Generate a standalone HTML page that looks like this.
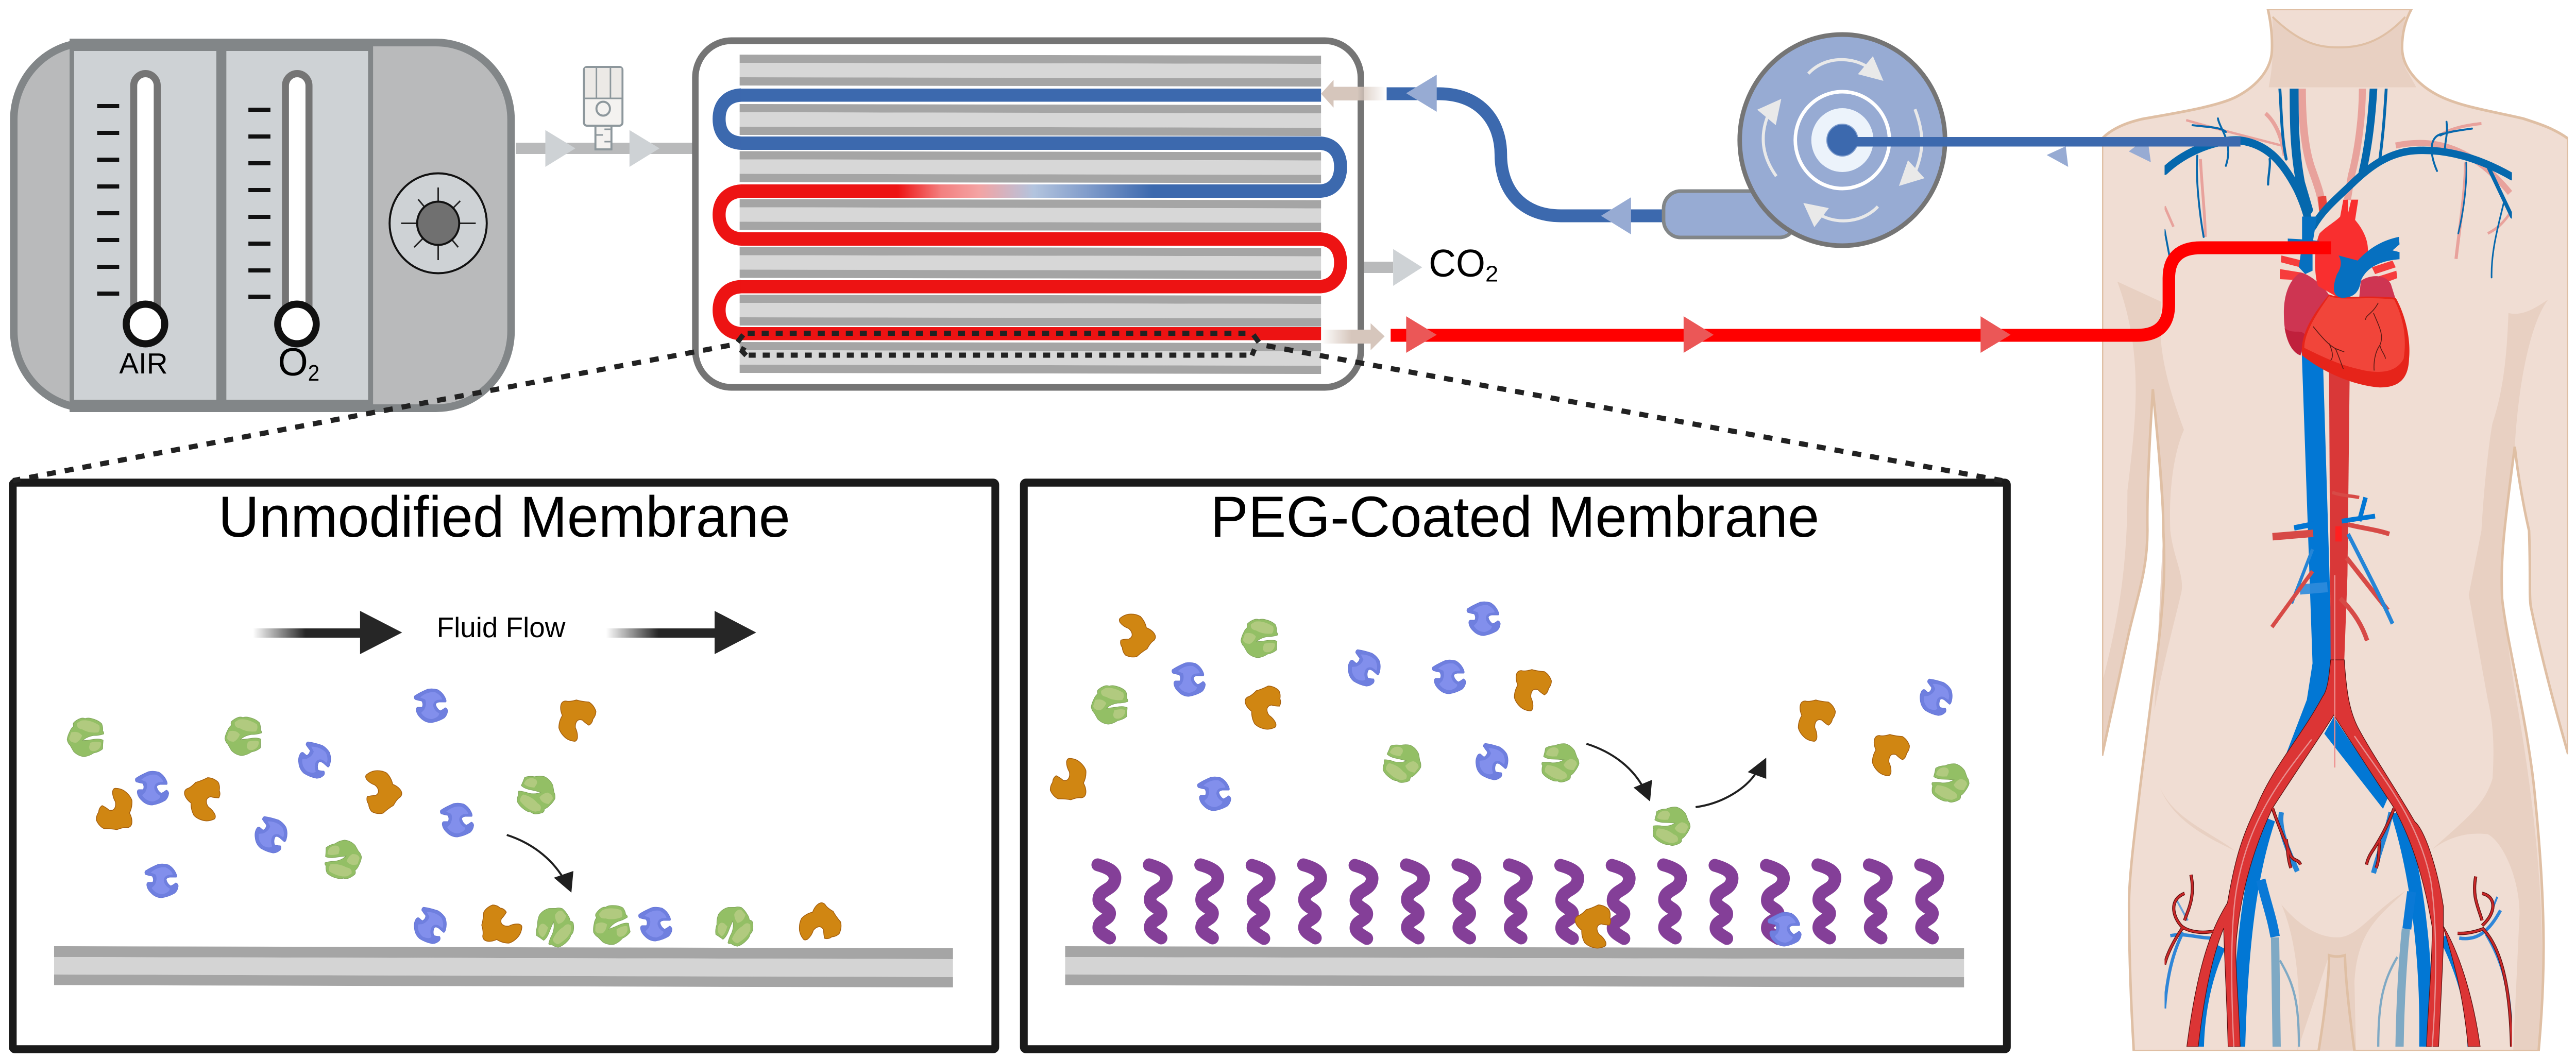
<!DOCTYPE html>
<html><head><meta charset="utf-8"><style>
html,body{margin:0;padding:0;background:#fff;width:100%;height:100%;overflow:hidden}
svg{display:block;width:100vw;height:100vh}
text{font-family:"Liberation Sans",sans-serif;fill:#000}
</style></head><body>
<svg viewBox="0 0 5144 2056" preserveAspectRatio="none" xmlns="http://www.w3.org/2000/svg">
<defs>
<linearGradient id="tubeGrad" gradientUnits="userSpaceOnUse" x1="1479" y1="0" x2="2638" y2="0">
<stop offset="0.27" stop-color="#ed1313"/><stop offset="0.345" stop-color="#f37f7f"/><stop offset="0.41" stop-color="#f4a3a3"/><stop offset="0.505" stop-color="#b3c4de"/><stop offset="0.6" stop-color="#7f9bca"/><stop offset="0.71" stop-color="#3c69ae"/><stop offset="1" stop-color="#3c69ae"/>
</linearGradient>
<linearGradient id="tanL" gradientUnits="userSpaceOnUse" x1="2638" y1="0" x2="2768" y2="0"><stop offset="0.55" stop-color="#d6c6bc"/><stop offset="1" stop-color="#d6c6bc" stop-opacity="0"/></linearGradient>
<linearGradient id="tanR" gradientUnits="userSpaceOnUse" x1="2638" y1="0" x2="2740" y2="0"><stop offset="0" stop-color="#d6c6bc" stop-opacity="0"/><stop offset="0.6" stop-color="#d6c6bc"/></linearGradient>
<linearGradient id="fa1" gradientUnits="userSpaceOnUse" x1="505" y1="0" x2="610" y2="0"><stop offset="0" stop-color="#262626" stop-opacity="0"/><stop offset="1" stop-color="#262626"/></linearGradient>
<linearGradient id="fa2" gradientUnits="userSpaceOnUse" x1="1210" y1="0" x2="1315" y2="0"><stop offset="0" stop-color="#262626" stop-opacity="0"/><stop offset="1" stop-color="#262626"/></linearGradient>
<g id="oxm"><polygon points="0,0 1161,2 1161,18 0,16" fill="#a5a5a5"/><polygon points="0,16 1161,18 1161,46 0,44" fill="#d7d7d7"/><polygon points="0,44 1161,46 1161,62 0,60" fill="#a5a5a5"/></g>
<g id="pm"><polygon points="0,0 1795,4 1795,25 0,21" fill="#a5a5a5"/><polygon points="0,21 1795,25 1795,60 0,55" fill="#d4d4d4"/><polygon points="0,55 1795,60 1795,80 0,75.500" fill="#a5a5a5"/></g>
<g id="blue">
<path d="M-33,-19 Q-22,-26 -7,-32 Q3,-34 13,-31 Q24,-25 29,-13 Q31,-8 29,-7 L16,-7 Q9,-6 9,-2 Q11,6 18,10 Q23,8 28,4 Q32,5 33,10 Q32,19 26,24 Q14,31 0,33 Q-12,33 -21,24 Q-29,17 -30,8 Q-30,4 -27,3 L-18,3 Q-15,-3 -19,-9 Q-25,-10 -32,-12 Q-35,-15 -33,-19Z" fill="#6f7fdf" stroke="#6676d6" stroke-width="1"/>
<path d="M-22,-16 Q-8,-28 8,-26 Q20,-20 22,-12 L12,-11 Q4,-8 4,0 Q6,10 16,15 Q16,22 2,26 Q-12,26 -20,14 L-14,8 Q-8,-3 -12,-12Z" fill="#828fec"/>
</g>
<g id="green">
<path d="M-10,-37 Q-5,-39 0,-37 Q6,-39 13,-37 Q26,-34 33,-27 Q36,-20 35,-13 Q38,-10 37,-7 Q28,-4 17,-4 Q3,-2 -5,6 Q7,5 20,3 Q30,2 36,5 Q35,14 35,22 Q28,28 17,30 Q8,36 -2,37 Q-14,36 -23,27 Q-26,22 -30,15 Q-34,12 -36,4 Q-35,-4 -30,-13 Q-28,-18 -23,-22 Q-25,-27 -22,-30 Q-16,-35 -10,-37Z" fill="#93bf65" stroke="#7fa35c" stroke-width="1"/>
<path d="M-8,-33 Q8,-36 28,-24 Q31,-16 26,-10 Q8,-8 -6,-16 Q-18,-18 -16,-28Z" fill="#b1ca7f"/>
<path d="M-28,-10 Q-14,-14 -6,-4 Q-10,6 -18,10 Q-30,10 -32,2Z" fill="#b1ca7f"/>
<path d="M10,10 Q26,6 32,10 Q32,22 20,26 Q8,28 8,18Z" fill="#b1ca7f"/>
</g>
<g id="orange">
<path d="M-15,-37 Q-7,-37 0,-31 Q8,-30 12,-23 Q8,-16 2,-10 Q0,-4 3,0 Q8,5 17,4 Q27,-1 37,0 Q44,2 43,7 Q42,16 37,23 Q28,34 17,37 Q4,37 -7,30 Q-18,35 -27,33 Q-35,31 -35,23 Q-33,16 -37,2 Q-34,-8 -33,-23 Q-27,-33 -15,-37Z" fill="#d08612" stroke="#a6600e" stroke-width="1.500"/>
</g>
<path id="peg" d="M0,0 C22,6 38,14 34,30 C30,50 2,48 2,68 C2,82 24,84 24,94 C24,108 2,106 2,122 C2,130 14,136 24,142" fill="none" stroke="#843f98" stroke-width="25" stroke-linecap="round"/>
<clipPath id="bodyClip"><rect x="75" y="26" width="1468" height="3080"/></clipPath>
<clipPath id="vesClip"><rect x="272" y="262" width="1094" height="2831"/></clipPath>
</defs>
<rect width="5144" height="2056" fill="#fff"/>

<!-- Gas blender -->
<rect x="27.500" y="82.500" width="993" height="710" rx="150" ry="150" fill="#b9babb" stroke="#828688" stroke-width="15"/>
<rect x="139" y="75" width="606" height="725" fill="#828688"/>
<rect x="148" y="99" width="284" height="677" fill="#ced2d5"/>
<rect x="452" y="99" width="283" height="677" fill="#ced2d5"/>
<g fill="#111">
<rect x="194" y="202" width="44" height="8"/><rect x="194" y="254" width="44" height="8"/><rect x="194" y="306" width="44" height="8"/><rect x="194" y="358" width="44" height="8"/><rect x="194" y="410" width="44" height="8"/><rect x="194" y="462" width="44" height="8"/><rect x="194" y="514" width="44" height="8"/><rect x="194" y="566" width="44" height="8"/>
<rect x="496" y="209" width="44" height="8"/><rect x="496" y="261" width="44" height="8"/><rect x="496" y="313" width="44" height="8"/><rect x="496" y="365" width="44" height="8"/><rect x="496" y="417" width="44" height="8"/><rect x="496" y="469" width="44" height="8"/><rect x="496" y="521" width="44" height="8"/><rect x="496" y="572" width="44" height="8"/>
</g>
<rect x="267" y="143" width="47" height="480" rx="23.500" fill="#fff" stroke="#757575" stroke-width="14"/>
<rect x="570" y="143" width="47" height="480" rx="23.500" fill="#fff" stroke="#757575" stroke-width="14"/>
<circle cx="290.500" cy="629" r="38.500" fill="#fff" stroke="#111" stroke-width="14"/>
<circle cx="593" cy="629" r="38.500" fill="#fff" stroke="#111" stroke-width="14"/>
<text x="238" y="725" font-size="57" textLength="97" lengthAdjust="spacingAndGlyphs">AIR</text>
<text x="555" y="729" font-size="76" textLength="60" lengthAdjust="spacingAndGlyphs">O</text>
<text x="615" y="739" font-size="44" textLength="23" lengthAdjust="spacingAndGlyphs">2</text>
<circle cx="875" cy="433.500" r="97" fill="#ced2d5" stroke="#111" stroke-width="4"/>
<g stroke="#222" stroke-width="3" fill="none">
<line x1="875" y1="364" x2="875" y2="505"/><line x1="801" y1="433.500" x2="950" y2="433.500"/>
<line x1="835" y1="387" x2="915" y2="480"/><line x1="919" y1="390" x2="827" y2="480"/>
</g>
<circle cx="875" cy="433.500" r="42" fill="#707070" stroke="#111" stroke-width="4"/>

<!-- Air line and valve -->
<rect x="1030" y="277" width="358" height="22" fill="#b9babb"/>
<polygon points="1089,252.500 1149,288 1089,324" fill="#ced2d5"/>
<polygon points="1257,252.500 1317,288 1257,324" fill="#ced2d5"/>
<rect x="1189" y="240" width="32" height="50" fill="#f4f2f0" stroke="#8d979c" stroke-width="4"/>
<path d="M1190,262h14M1207,251h12M1207,275h12" stroke="#8d979c" stroke-width="3"/>
<rect x="1166" y="130" width="77" height="114" rx="6" fill="#f4f2f0" stroke="#8d979c" stroke-width="4"/>
<rect x="1168" y="132" width="73" height="58" fill="#ece9e6"/>
<path d="M1166,191H1243M1191,130V191M1219,130V191" stroke="#8d979c" stroke-width="3" fill="none"/>
<circle cx="1204.500" cy="211" r="13.500" fill="none" stroke="#8d979c" stroke-width="4"/>

<!-- Oxygenator -->
<rect x="1388.500" y="79" width="1329" height="673" rx="72" fill="#fff" stroke="#757575" stroke-width="13"/>
<use href="#oxm" x="1477" y="106"/><use href="#oxm" x="1477" y="202"/><use href="#oxm" x="1477" y="293.500"/><use href="#oxm" x="1477" y="386.500"/><use href="#oxm" x="1477" y="479.500"/><use href="#oxm" x="1477" y="572"/><use href="#oxm" x="1477" y="664"/>
<g fill="none" stroke-width="26">
<path d="M1480,184.500 C1450,186 1436,205 1436,231 C1436,257 1450,276 1480,278" stroke="#3c69ae"/>
<path d="M2637,278 C2665,280 2677,300 2677,324 C2677,348 2665,369 2637,371" stroke="#3c69ae"/>
<path d="M1480,371 C1450,373 1436,393 1436,417 C1436,441 1450,462 1480,464" stroke="#ed1313"/>
<path d="M2637,464 C2665,466 2677,486 2677,510 C2677,534 2665,554 2637,556.500" stroke="#ed1313"/>
<path d="M1480,556.500 C1450,558 1436,578 1436,602 C1436,626 1450,646 1480,648" stroke="#ed1313"/>
</g>
<rect x="1479" y="172" width="1159" height="25.500" fill="#3c69ae"/>
<rect x="1479" y="265" width="1159" height="26" fill="#3c69ae"/>
<rect x="1479" y="358" width="1159" height="26" fill="url(#tubeGrad)"/>
<rect x="1479" y="451" width="1159" height="26" fill="#ed1313"/>
<rect x="1479" y="544" width="1159" height="25.500" fill="#ed1313"/>
<rect x="1479" y="635" width="1159" height="25.500" fill="#ed1313"/>

<!-- Tube connectors -->
<rect x="2660" y="168.500" width="108" height="26.500" fill="url(#tanL)"/>
<polygon points="2638,182 2663,155 2663,209" fill="#d6c6bc"/>
<rect x="2638" y="640" width="100" height="27" fill="url(#tanR)"/>
<polygon points="2737,627.500 2765,653 2737,680" fill="#d6c6bc"/>
<rect x="2724" y="508" width="58" height="22" fill="#b9babb"/>
<polygon points="2782,483.500 2840,519 2782,555" fill="#ced2d5"/>
<text x="2853" y="537" font-size="75" textLength="113" lengthAdjust="spacingAndGlyphs">CO</text>
<text x="2966" y="546.500" font-size="44" textLength="26" lengthAdjust="spacingAndGlyphs">2</text>

<path d="M2769,182 H2872 C2960,182 2997,240 2997,300 C2997,370 3040,419 3117,419 H3340" fill="none" stroke="#3c69ae" stroke-width="25"/>
<polygon points="2808,181 2869,145 2869,217" fill="#97abd3"/>
<polygon points="3197,419 3257,383 3257,455" fill="#97abd3"/>

<!-- Pump -->
<rect x="3322" y="371" width="265" height="90" rx="34" fill="#97abd3" stroke="#828688" stroke-width="7"/>
<circle cx="3679" cy="272" r="205" fill="#97abd3" stroke="#757575" stroke-width="9"/>
<circle cx="3679" cy="272" r="94" fill="none" stroke="#fff" stroke-width="7"/>
<circle cx="3679" cy="272" r="62" fill="#ecf3fb"/>
<g fill="none" stroke="#e9e9e9" stroke-width="6">
<path d="M3611,143 C3640,112 3690,108 3726,128"/>
<path d="M3750,401 C3720,432 3670,436 3636,418"/>
<path d="M3824,212 C3842,258 3842,290 3826,330"/>
<path d="M3547,342 C3516,300 3516,260 3530,225"/>
</g>
<g fill="#e9e9e9">
<polygon points="3740,109 3761,157 3710,144"/>
<polygon points="3601,394 3652,404 3623,441"/>
<polygon points="3810,311 3843,346 3792,361"/>
<polygon points="3557,192 3509,213 3546,243"/>
</g>
<rect x="3704" y="266" width="770" height="18.500" fill="#3c69ae"/>
<circle cx="3679" cy="272" r="31" fill="#3c69ae" stroke="#7e9ccd" stroke-width="2"/>

<!-- Body -->
<g transform="translate(4150,0) scale(.634,.657)">
<g clip-path="url(#bodyClip)">
<path d="M597,26 C605,60 612,100 610,150 C608,200 570,250 500,285 C440,315 300,335 200,352 C140,365 100,385 75,410 L75,2233 C100,2130 130,2000 160,1868 C190,1750 218,1680 218,1568 C216,1450 225,1300 235,1150 C250,1300 268,1450 268,1568 C275,1700 270,1800 230,2068 C215,2180 195,2320 190,2368 C175,2480 160,2600 160,2668 C160,2800 165,2950 175,3106 L757,3106 C775,3000 790,2900 790,2823 Q815,2830 840,2823 C842,2900 855,3000 870,3106 L1450,3106 C1470,2900 1475,2700 1440,2368 C1420,2150 1350,1900 1335,1768 C1330,1650 1340,1568 1375,1320 C1390,1450 1420,1568 1420,1568 C1425,1700 1420,1750 1425,1790 C1460,1950 1510,2120 1543,2228 L1543,410 C1500,380 1450,365 1400,350 C1300,328 1200,315 1130,280 C1070,250 1020,200 1020,140 C1020,100 1030,60 1050,26 Z" fill="#f0ddd3"/>
<g fill="#e8d0c2">
<path d="M612,50 C700,130 760,140 820,140 C880,140 950,130 1030,50 C1020,110 1018,160 1030,200 L1065,258 L600,258 C605,230 612,200 612,150Z"/>
<path d="M123,832 L262,892 C250,1000 265,1100 333,1270 C300,1340 285,1450 290,1568 C300,1650 335,1700 325,1750 C300,1850 270,1950 240,2100 L268,1568 L235,1150 L218,1568 C215,1700 150,1900 75,2233 L75,2020 C120,1850 155,1700 155,1450 C180,1250 210,1050 123,832Z"/>
<path d="M1480,885 C1440,910 1400,935 1355,925 C1350,1050 1340,1150 1305,1250 C1300,1270 1280,1400 1270,1568 L1230,1758 L1290,2068 C1310,2150 1310,2220 1305,2300 C1280,2380 1220,2420 1115,2510 C1180,2465 1240,2460 1290,2465 C1340,2490 1390,2600 1390,2700 L1370,3106 L1450,3106 C1475,2800 1460,2500 1380,2068 C1350,1900 1335,1768 1335,1700 C1330,1650 1340,1568 1375,1320 C1385,1150 1420,960 1480,885Z"/>
<path d="M640,2673 C700,2740 760,2770 815,2770 C880,2770 920,2700 1030,2633 C960,2700 880,2740 870,2900 L875,3106 L757,3106 L790,2823 L690,3106 C705,2950 690,2780 640,2673Z"/>
<path d="M258,2328 C300,2420 420,2460 495,2515 C420,2480 300,2430 258,2328Z"/>
</g>
<path d="M597,26 C605,60 612,100 610,150 C608,200 570,250 500,285 C440,315 300,335 200,352 C140,365 100,385 75,410 L75,2233 C100,2130 130,2000 160,1868 C190,1750 218,1680 218,1568 C216,1450 225,1300 235,1150 C250,1300 268,1450 268,1568 C275,1700 270,1800 230,2068 C215,2180 195,2320 190,2368 C175,2480 160,2600 160,2668 C160,2800 165,2950 175,3106 L757,3106 C775,3000 790,2900 790,2823 Q815,2830 840,2823 C842,2900 855,3000 870,3106 L1450,3106 C1470,2900 1475,2700 1440,2368 C1420,2150 1350,1900 1335,1768 C1330,1650 1340,1568 1375,1320 C1390,1450 1420,1568 1420,1568 C1425,1700 1420,1750 1425,1790 C1460,1950 1510,2120 1543,2228 L1543,410 C1500,380 1450,365 1400,350 C1300,328 1200,315 1130,280 C1070,250 1020,200 1020,140 C1020,100 1030,60 1050,26 Z" fill="none" stroke="#dfbfa4" stroke-width="8"/>
<path d="M612,50 C700,130 760,140 820,140 C880,140 950,130 1030,50" fill="none" stroke="#dfbfa4" stroke-width="6"/>
</g>
<rect x="600" y="262" width="466" height="70" fill="#f0ddd3"/>

<g clip-path="url(#vesClip)" fill="none" stroke-linecap="round">
<!-- upper arteries (pink) -->
<g stroke="#e8a29c" stroke-linecap="butt">
<path d="M705,262 C705,350 712,430 732,490 C750,540 765,570 770,620" stroke-width="24"/>
<path d="M895,262 C895,350 880,450 860,520 L848,590" stroke-width="22"/>
<path d="M340,355 C450,385 560,410 640,430" stroke-width="7"/>
<path d="M590,335 C620,360 640,400 650,460" stroke-width="12"/>
<path d="M1000,430 C1100,410 1230,420 1360,570" stroke-width="18"/>
<path d="M1270,365 C1220,370 1170,380 1140,400" stroke-width="9"/>
<path d="M385,470 C390,560 400,640 400,700" stroke-width="9"/>
<path d="M1220,480 C1220,560 1200,680 1190,765" stroke-width="10"/>
<path d="M272,610 L300,670" stroke-width="8"/>
<path d="M1360,630 C1330,670 1310,680 1290,690" stroke-width="8"/>
</g>
<path d="M768,580 L772,625" stroke="#e8443c" stroke-width="26" stroke-linecap="butt"/>
<!-- upper veins -->
<g stroke="#0568ad">
<path d="M272,505 C340,445 440,410 510,415 C590,425 640,470 690,560 C710,600 725,640 730,680" stroke-width="24"/>
<path d="M1366,522 C1250,460 1150,440 1060,445 C980,450 920,490 860,545 C810,590 770,620 740,670" stroke-width="22"/>
<path d="M635,262 C640,330 640,400 655,470" stroke-width="9"/>
<path d="M680,262 C680,350 680,440 700,540 L725,620" stroke-width="28"/>
<path d="M930,262 C925,340 915,430 895,510" stroke-width="24"/>
<path d="M970,262 C965,340 960,400 950,470" stroke-width="9"/>
<path d="M375,460 C370,520 380,620 395,700" stroke-width="6"/>
<path d="M603,470 C606,490 598,520 598,545" stroke-width="7"/>
<path d="M440,350 C445,380 490,420 465,490" stroke-width="6"/>
<path d="M360,370 C400,375 450,375 465,390" stroke-width="6"/>
<path d="M1222,480 C1225,540 1215,620 1197,690" stroke-width="5"/>
<path d="M1340,600 C1325,660 1300,740 1302,820" stroke-width="5"/>
<path d="M1160,360 C1165,395 1155,420 1155,440" stroke-width="6"/>
<path d="M1150,395 C1105,400 1105,450 1130,505" stroke-width="6"/>
<path d="M1240,380 C1200,385 1160,390 1140,400" stroke-width="6"/>
<path d="M1290,490 L1366,640" stroke-width="12"/>
<path d="M272,680 L290,770" stroke-width="6"/>
</g>

<!-- IVC and aorta trunk -->
<polygon points="704,1040 770,1040 800,1960 778,2068 700,2240 650,2240 720,2068 738,1960 " fill="#0277d4"/>
<polygon points="790,1100 855,1100 848,1700 838,1950 795,1950" fill="#d93838"/>
<path d="M698,1742 L785,1735" stroke="#2f8bdc" stroke-width="30" stroke-linecap="butt" opacity=".9"/>
<!-- renal/lumbar branches -->
<g stroke-linecap="butt">
<path d="M800,1455 C830,1465 860,1465 885,1470" stroke="#d74a46" stroke-width="10"/>
<path d="M680,1560 L760,1545" stroke="#0277d4" stroke-width="16"/>
<path d="M830,1540 L935,1525" stroke="#0277d4" stroke-width="14"/>
<path d="M905,1470 L885,1540" stroke="#0277d4" stroke-width="14"/>
<path d="M612,1586 L740,1576" stroke="#d74a46" stroke-width="22"/>
<path d="M850,1550 C890,1560 940,1565 980,1578" stroke="#d74a46" stroke-width="14"/>
<path d="M820,1555 V1600" stroke="#ff2020" stroke-width="20"/>
<path d="M738,1623 L672,1783" stroke="#2585d6" stroke-width="10"/>
<path d="M738,1688 L610,1853" stroke="#d74a46" stroke-width="12"/>
<path d="M845,1648 L975,1803" stroke="#d74a46" stroke-width="14"/>
<path d="M850,1578 C900,1670 950,1760 990,1843" stroke="#2585d6" stroke-width="12"/>
<path d="M825,1768 C870,1810 895,1850 910,1893" stroke="#d74a46" stroke-width="14"/>
</g>
<!-- lower veins -->
<polygon points="775,2168 805,2118 975,2358 960,2390" fill="#0277d4"/>
<g stroke-linecap="butt">
<path d="M600,2420 C550,2560 515,2750 505,3093" stroke="#0277d4" stroke-width="42"/>
<path d="M1005,2400 C1060,2560 1100,2800 1095,3093" stroke="#0277d4" stroke-width="42"/>
<path d="M450,2798 C410,2880 385,2980 382,3093" stroke="#0277d4" stroke-width="28"/>
<path d="M1150,2768 C1210,2880 1240,2990 1240,3093" stroke="#0277d4" stroke-width="28"/>
<path d="M575,2600 C590,2660 610,2710 620,2768" stroke="#0a79d6" stroke-width="30"/>
<path d="M1050,2635 L1035,2745" stroke="#0a79d6" stroke-width="28"/>
<path d="M620,2770 L625,3093" stroke="#7fa9c4" stroke-width="26"/>
<path d="M1032,2745 C1020,2860 1014,2980 1012,3093" stroke="#7fa9c4" stroke-width="26"/>
<path d="M635,2838 C680,2910 695,2960 695,3093" stroke="#7fa9c4" stroke-width="7"/>
<path d="M1005,2828 C960,2900 945,2960 945,3093" stroke="#7fa9c4" stroke-width="7"/>
<path d="M290,2765 C340,2755 380,2775 440,2772" stroke="#2f86d8" stroke-width="10"/>
<path d="M330,2755 C300,2810 280,2880 272,2980" stroke="#2f86d8" stroke-width="10"/>
<path d="M1200,2772 C1250,2780 1290,2760 1330,2690" stroke="#2f86d8" stroke-width="10"/>
<path d="M1285,2760 C1330,2830 1355,2900 1362,3020" stroke="#2f86d8" stroke-width="10"/>
<path d="M310,2660 L345,2720" stroke="#6aa2d8" stroke-width="6"/>
<path d="M1320,2650 L1290,2720" stroke="#2f86d8" stroke-width="6"/>
<path d="M640,2400 C630,2450 660,2510 690,2575" stroke="#2585d6" stroke-width="16"/>
<path d="M985,2400 C975,2450 950,2510 930,2580" stroke="#2585d6" stroke-width="16"/>
</g>
<!-- iliac arteries -->
<path d="M795,1950 C790,2000 785,2040 770,2058 C700,2180 610,2270 560,2388 C510,2480 490,2560 470,2668 C430,2730 380,2820 342,3093 L378,3093 C395,2950 420,2830 458,2743 C462,2860 470,3000 472,3093 L510,3093 C505,2940 490,2830 500,2760 C515,2620 560,2490 612,2388 C700,2260 760,2180 805,2113 C850,2180 920,2280 995,2388 C1050,2480 1090,2600 1115,2740 C1115,2850 1100,3000 1097,3093 L1135,3093 C1140,3000 1148,2860 1152,2740 C1190,2800 1240,2920 1266,3093 L1228,3093 C1215,2960 1190,2860 1150,2740 L1150,2678 C1130,2560 1090,2450 1060,2428 C1000,2330 920,2220 880,2148 C855,2100 845,2050 838,1950 Z" fill="#dc3535" stroke="#5a1010" stroke-width="2"/>
<g stroke="#e88f8f" stroke-width="4" stroke-linecap="butt">
<path d="M735,2185 C650,2290 540,2410 500,2620 C480,2720 480,2900 490,3093"/>
<path d="M870,2175 C960,2300 1070,2420 1110,2600 C1130,2720 1130,2900 1115,3093"/>
<path d="M808,2268 V1700" stroke="#ee8d8d"/>
</g>
<g stroke="#5a1010" stroke-width="10" stroke-linecap="butt">
<path d="M612,2388 C630,2440 650,2480 670,2530 C680,2545 695,2540 700,2555"/>
<path d="M655,2480 C660,2510 660,2540 670,2565"/>
<path d="M995,2388 C975,2440 950,2480 930,2510 C915,2530 910,2545 908,2555"/>
<path d="M950,2485 C945,2510 950,2540 938,2565"/>
<path d="M425,2752 C380,2760 345,2750 330,2740 C300,2780 280,2820 272,2850"/>
<path d="M335,2745 C300,2720 280,2660 335,2640"/>
<path d="M335,2720 C345,2690 370,2650 355,2585"/>
<path d="M1195,2758 C1230,2760 1260,2750 1275,2745 C1320,2790 1360,2880 1365,3093"/>
<path d="M1272,2735 C1315,2700 1320,2650 1272,2640"/>
<path d="M1272,2720 C1260,2680 1240,2650 1252,2590"/>
</g>
<g stroke="#c82828" stroke-width="6" stroke-linecap="butt">
<path d="M612,2388 C630,2440 650,2480 670,2530 C680,2545 695,2540 700,2555"/>
<path d="M655,2480 C660,2510 660,2540 670,2565"/>
<path d="M995,2388 C975,2440 950,2480 930,2510 C915,2530 910,2545 908,2555"/>
<path d="M950,2485 C945,2510 950,2540 938,2565"/>
<path d="M425,2752 C380,2760 345,2750 330,2740 C300,2780 280,2820 272,2850"/>
<path d="M335,2745 C300,2720 280,2660 335,2640"/>
<path d="M335,2720 C345,2690 370,2650 355,2585"/>
<path d="M1195,2758 C1230,2760 1260,2750 1275,2745 C1320,2790 1360,2880 1365,3093"/>
<path d="M1272,2735 C1315,2700 1320,2650 1272,2640"/>
<path d="M1272,2720 C1260,2680 1240,2650 1252,2590"/>
</g>
</g>

<!-- Heart -->
<g fill="#f63c3c">
<polygon points="640,755 705,770 700,790 638,775"/><polygon points="635,795 700,805 700,828 635,825"/>
<polygon points="925,790 990,770 1000,790 935,810"/><polygon points="935,820 1002,800 1005,822 940,845"/>
</g>
<path d="M700,805 C660,830 645,880 648,940 C650,1000 670,1040 700,1050 L720,1000 L795,880 C780,850 730,810 700,805Z" fill="#ce3552"/>
<path d="M650,970 C660,1020 680,1045 700,1050 L715,990 C700,970 680,990 650,970Z" fill="#c0203c"/>
<path d="M890,830 C920,810 970,810 985,840 L1000,885 L885,880Z" fill="#ce3552"/>
<path d="M760,690 C780,670 810,655 825,640 L835,590 L850,590 L850,630 L860,590 L882,590 L872,650 C900,680 915,715 912,745 L820,880 L755,845 C740,800 745,720 760,690Z" fill="#f92f2f"/>
<path d="M790,870 C830,885 900,870 1000,880 C1030,930 1048,1000 1042,1060 C1040,1120 1010,1145 950,1145 C870,1140 770,1100 705,1050 C700,1000 720,950 790,870Z" fill="#e6241a"/>
<path d="M790,875 C830,890 900,875 995,885 C1025,940 1035,1000 1025,1060 C1000,1105 940,1105 880,1090 C810,1075 750,1045 712,1028 C712,990 740,940 790,875Z" fill="#f1453a"/>
<g fill="none" stroke="#5a1a14" stroke-width="2.500">
<path d="M945,895 C925,930 905,930 905,945 M930,925 C945,960 965,990 950,1020 C935,1040 930,1070 932,1095 M950,1020 C955,1040 965,1045 968,1060"/>
<path d="M740,965 C770,1000 790,1020 810,1030 C820,1050 830,1080 835,1090 M790,1015 C800,1035 805,1055 795,1065 M810,1030 L838,1040"/>
</g>
<g fill="#0670c0">
<path d="M705,640 L752,640 L738,720 L738,800 L715,810 L695,790 L705,720 Z"/>
<polygon points="660,705 700,707 760,712 745,720 660,715"/>
<path d="M820,755 L880,770 C920,730 960,710 1010,700 L1012,722 L990,740 L1012,745 L1012,766 C960,770 910,785 890,830 C885,870 860,880 830,880 C800,875 800,850 815,810 C830,790 830,770 820,755Z"/>
</g>
</g>

<!-- Blue line overlay & return arrows -->
<polygon points="4087,301 4125,284 4130,324" fill="#97abd3"/>
<polygon points="4251,294 4288,266 4295,315" fill="#97abd3"/>
<rect x="3704" y="266" width="770" height="18.500" fill="#3c69ae"/>

<!-- Red line -->
<path d="M2777,651 H4267 Q4331,651 4331,591 V540 Q4331,481 4395,481 H4655" fill="none" stroke="#ff0000" stroke-width="25"/>
<polygon points="2808,614 2869,650 2808,685" fill="#eb5757"/>
<polygon points="3362,614 3422,650 3362,685" fill="#eb5757"/>
<polygon points="3955,614 4015,650 3955,685" fill="#eb5757"/>

<!-- Panels -->
<rect x="25.500" y="937" width="1962" height="1100" rx="4" fill="#fff" stroke="#1a1a1a" stroke-width="15.500"/>
<rect x="2044.500" y="937" width="1963" height="1100" rx="4" fill="#fff" stroke="#1a1a1a" stroke-width="15.500"/>
<text x="436" y="1042" font-size="112" textLength="1142" lengthAdjust="spacingAndGlyphs">Unmodified Membrane</text>
<text x="2417" y="1042" font-size="112" textLength="1216" lengthAdjust="spacingAndGlyphs">PEG-Coated Membrane</text>
<text x="872" y="1237" font-size="55" textLength="257" lengthAdjust="spacingAndGlyphs">Fluid Flow</text>
<rect x="505" y="1220" width="215" height="18" fill="url(#fa1)"/><polygon points="719,1186 803,1228 719,1270" fill="#262626"/>
<rect x="1210" y="1220" width="218" height="18" fill="url(#fa2)"/><polygon points="1427,1186 1510,1228 1427,1270" fill="#262626"/>
<use href="#pm" x="108" y="1837"/>
<use href="#pm" x="2127" y="1837"/>

<!-- Dotted lines -->
<g fill="none" stroke="#222" stroke-width="10">
<path d="M1493,647 H2495" stroke-dasharray="14 14"/>
<path d="M1495,689.500 H2490" stroke-dasharray="14 14"/>
<path d="M1484,650 L1470,668 L26,933" stroke-dasharray="18 18"/>
<path d="M2503,650 L2517,669 L3998,933" stroke-dasharray="18 18"/>
<path d="M1486,674 L1482,682 L1490,690"/>
<path d="M2505,678 L2500,690"/>
</g>

<!-- Panel 1 proteins -->
<g>
<use href="#green" transform="translate(170,1432)"/><use href="#green" transform="translate(485,1430)"/><use href="#green" transform="translate(1073,1542) rotate(200)"/><use href="#green" transform="translate(686,1668) rotate(180)"/>
<use href="#green" transform="translate(1108,1797) rotate(120)"/><use href="#green" transform="translate(1219,1797) rotate(-15)"/><use href="#green" transform="translate(1466,1795) rotate(120)"/>
<use href="#blue" transform="translate(861,1370)"/><use href="#blue" transform="translate(628,1476) rotate(40)"/><use href="#blue" transform="translate(304,1530)"/><use href="#blue" transform="translate(541,1621) rotate(40)"/><use href="#blue" transform="translate(323,1710)"/><use href="#blue" transform="translate(913,1592)"/>
<use href="#blue" transform="translate(859,1797) rotate(40)"/><use href="#blue" transform="translate(1309,1794)"/>
<use href="#orange" transform="translate(1153,1396) rotate(90)"/><use href="#orange" transform="translate(228,1574) rotate(-95)"/><use href="#orange" transform="translate(411,1550) rotate(60)"/><use href="#orange" transform="translate(758,1539) rotate(-135)"/>
<use href="#orange" transform="translate(999,1794)"/><use href="#orange" transform="translate(1639,1797) rotate(135)"/>
</g>
<path d="M1012,1621 C1060,1636 1100,1665 1125,1705" fill="none" stroke="#1f1f1f" stroke-width="4"/>
<polygon points="1106,1704 1145,1691 1141,1733" fill="#1f1f1f"/>

<!-- PEG chains -->
<g>
<use href="#peg" x="2192" y="1679"/><use href="#peg" x="2294.700" y="1679"/><use href="#peg" x="2397.400" y="1679"/><use href="#peg" x="2500" y="1680"/><use href="#peg" x="2602.800" y="1679"/><use href="#peg" x="2705.500" y="1680"/><use href="#peg" x="2808.200" y="1679"/><use href="#peg" x="2911" y="1679"/><use href="#peg" x="3013.600" y="1679"/><use href="#peg" x="3116.300" y="1680"/><use href="#peg" x="3219" y="1680"/><use href="#peg" x="3321.700" y="1679"/><use href="#peg" x="3424.400" y="1680"/><use href="#peg" x="3527" y="1680"/><use href="#peg" x="3629.800" y="1679"/><use href="#peg" x="3732.500" y="1679"/><use href="#peg" x="3835" y="1679"/>
</g>

<!-- Panel 2 proteins -->
<g>
<use href="#orange" transform="translate(2263,1235) rotate(-135)"/><use href="#orange" transform="translate(2529,1372) rotate(60)"/><use href="#orange" transform="translate(3061,1337) rotate(90)"/><use href="#orange" transform="translate(2133,1516) rotate(-95)"/><use href="#orange" transform="translate(3628,1396) rotate(90)"/><use href="#orange" transform="translate(3776,1463) rotate(90)"/><use href="#orange" transform="translate(3188,1797) rotate(60)"/>
<use href="#green" transform="translate(2514,1240)"/><use href="#green" transform="translate(2215,1369)"/><use href="#green" transform="translate(2802,1481) rotate(200)"/><use href="#green" transform="translate(3117,1480) rotate(190)"/><use href="#green" transform="translate(3339,1603) rotate(190)"/><use href="#green" transform="translate(3896,1519) rotate(190)"/>
<use href="#blue" transform="translate(2963,1201)"/><use href="#blue" transform="translate(2374,1319)"/><use href="#blue" transform="translate(2724,1297) rotate(40)"/><use href="#blue" transform="translate(2894,1314)"/><use href="#blue" transform="translate(2979,1479) rotate(40)"/><use href="#blue" transform="translate(2425,1541)"/><use href="#blue" transform="translate(3866,1354) rotate(40)"/><use href="#blue" transform="translate(3564,1804)"/>
</g>
<path d="M3168,1444 C3220,1460 3260,1490 3282,1530" fill="none" stroke="#1f1f1f" stroke-width="4"/>
<polygon points="3262,1529 3299,1514 3295,1556" fill="#1f1f1f"/>
<path d="M3386,1567 C3440,1560 3490,1530 3510,1495" fill="none" stroke="#1f1f1f" stroke-width="4"/>
<polygon points="3490,1499 3527,1512 3527,1471" fill="#1f1f1f"/>
</svg>
</body></html>
